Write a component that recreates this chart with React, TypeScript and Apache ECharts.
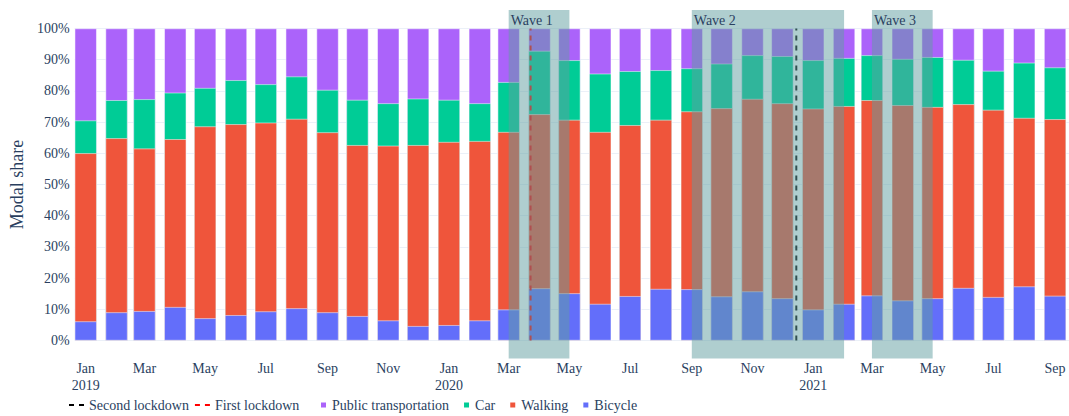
import React, { useEffect, useRef } from "react";
import * as echarts from "echarts";

const months = [
  "2019-01", "2019-02", "2019-03", "2019-04", "2019-05", "2019-06", "2019-07", "2019-08", "2019-09", "2019-10", "2019-11", "2019-12",
  "2020-01", "2020-02", "2020-03", "2020-04", "2020-05", "2020-06", "2020-07", "2020-08", "2020-09", "2020-10", "2020-11", "2020-12",
  "2021-01", "2021-02", "2021-03", "2021-04", "2021-05", "2021-06", "2021-07", "2021-08", "2021-09",
];

const bicycle = [6.1, 9.0, 9.4, 10.7, 7.1, 8.1, 9.3, 10.3, 9.0, 7.8, 6.4, 4.6, 4.9, 6.4, 9.9, 16.7, 15.1, 11.7, 14.2, 16.5, 16.4, 14.1, 15.7, 13.5, 9.9, 11.7, 14.4, 12.8, 13.5, 16.8, 13.9, 17.3, 14.3];
const walking = [53.9, 55.8, 52.1, 53.8, 61.5, 61.2, 60.5, 60.7, 57.7, 54.8, 56.0, 58.0, 58.7, 57.5, 56.9, 55.8, 55.6, 55.1, 54.8, 54.2, 57.0, 60.3, 61.7, 62.5, 64.4, 63.4, 62.6, 62.6, 61.3, 58.9, 60.0, 54.0, 56.6];
const car = [10.5, 12.2, 15.8, 14.9, 12.3, 14.1, 12.3, 13.6, 13.6, 14.5, 13.6, 14.9, 13.5, 12.1, 16.0, 20.3, 19.1, 18.7, 17.3, 15.9, 13.8, 14.3, 14.0, 15.1, 15.5, 15.4, 14.4, 14.8, 16.0, 14.2, 12.5, 17.7, 16.6];
const publicTransport = [29.5, 23.0, 22.7, 20.6, 19.1, 16.6, 17.9, 15.4, 19.7, 22.9, 24.0, 22.5, 22.9, 24.0, 17.2, 7.2, 10.2, 14.5, 13.7, 13.4, 12.8, 11.3, 8.6, 8.9, 10.2, 9.5, 8.6, 9.8, 9.2, 10.1, 13.6, 11.0, 12.5];

const tickMonths = ["2019-01", "2019-03", "2019-05", "2019-07", "2019-09", "2019-11", "2020-01", "2020-03", "2020-05", "2020-07", "2020-09", "2020-11", "2021-01", "2021-03", "2021-05", "2021-07", "2021-09"];
const yTicks = [0, 10, 20, 30, 40, 50, 60, 70, 80, 90, 100];

const waveNames = ["Wave 1", "Wave 2", "Wave 3"];
const waveStarts = ["2020-03-01", "2020-09-01", "2021-03-01"];
const waveEnds = ["2020-05-01", "2021-02-01", "2021-05-01"];
const firstLockdown = "2020-03-23";
const secondLockdown = "2020-12-15";

const monthNames = ["Jan", "Feb", "Mar", "Apr", "May", "Jun", "Jul", "Aug", "Sep", "Oct", "Nov", "Dec"];
const DAY = 86400000;
const toTime = (s: string) => {
  const p = s.split("-").map(Number);
  return Date.UTC(p[0], p[1] - 1, p[2] || 1);
};

const FONT = "Liberation Serif";
const TXT = "#2a3f5f";
const DASH_ICON = "path://M0,0L5,0L5,2L0,2ZM10,0L15,0L15,2L10,2Z";

export default function App() {
  const ref = useRef<HTMLDivElement>(null);
  useEffect(() => {
    document.body.style.margin = "0";
    const chart = echarts.init(ref.current!, undefined, { renderer: "svg" });
    const xs = months.map(toTime);
    // stack order bottom -> top; tops accumulated so every bar spans from 0 to its stacked top
    const layers = [
      { name: "Bicycle", vals: bicycle, color: "#636efa" },
      { name: "Walking", vals: walking, color: "#EF553B" },
      { name: "Car", vals: car, color: "#00cc96" },
      { name: "Public transportation", vals: publicTransport, color: "#ab63fa" },
    ];
    const running = xs.map(() => 0);
    const barSeries = layers.map((l) => {
      const tops = l.vals.map((v, i) => (running[i] += v));
      return {
        name: l.name,
        type: "bar",
        barWidth: 22,
        barGap: "-100%",
        data: xs.map((x, i) => [x, +tops[i].toFixed(2)]),
        itemStyle: { color: l.color, borderColor: "#ffffff", borderWidth: 0.5 },
        emphasis: { disabled: true },
      };
    });
    barSeries.reverse();
    const vline = (name: string, date: string, color: string) => ({
      name,
      type: "line",
      symbol: "none",
      data: [[toTime(date), 0], [toTime(date), 100]],
      lineStyle: { color, width: 2, type: [5, 5] },
      itemStyle: { color },
      z: 5,
    });
    chart.setOption({
      animation: false,
      textStyle: { fontFamily: FONT },
      grid: { left: 71, right: 0, top: 28.5, bottom: 75.5, containLabel: false },
      xAxis: {
        type: "value",
        min: toTime("2019-01-01") - 11.2 * DAY,
        max: toTime("2019-01-01") + 988 * DAY,
        axisLine: { show: false },
        axisTick: { show: false },
        splitLine: { show: false },
        axisLabel: {
          customValues: tickMonths.map(toTime),
          formatter: (v: number) => {
            const d = new Date(v);
            const m = d.getUTCMonth();
            return m === 0 ? monthNames[m] + "\n" + d.getUTCFullYear() : monthNames[m];
          },
          fontFamily: FONT,
          fontSize: 14,
          color: TXT,
          margin: 19,
          lineHeight: 17,
        },
      },
      yAxis: {
        type: "value",
        min: 0,
        max: 100,
        interval: 10,
        name: "Modal share",
        nameLocation: "middle",
        nameGap: 45,
        nameTextStyle: { fontFamily: FONT, fontSize: 18, color: TXT },
        axisLine: { show: false },
        axisTick: { show: false },
        splitLine: { lineStyle: { color: "#EBF0F8", width: 1 } },
        axisLabel: {
          customValues: yTicks,
          formatter: "{value}%",
          fontFamily: FONT,
          fontSize: 14,
          color: TXT,
          margin: 5,
        },
      },
      legend: [
        {
          data: [
            { name: "Second lockdown", icon: DASH_ICON, itemStyle: { color: "#000000", borderWidth: 0 } },
            { name: "First lockdown", icon: DASH_ICON, itemStyle: { color: "#ff0000", borderWidth: 0 } },
          ],
          left: 69,
          top: 398,
          padding: 0,
          itemWidth: 15,
          itemHeight: 2,
          itemGap: 6,
          textStyle: { fontFamily: FONT, fontSize: 14, color: TXT },
          selectedMode: false,
        },
        {
          data: ["Public transportation", "Car", "Walking", "Bicycle"],
          left: 319,
          top: 398,
          padding: 0,
          icon: "rect",
          itemWidth: 7,
          itemHeight: 7,
          itemGap: 13,
          textStyle: { fontFamily: FONT, fontSize: 14, color: TXT },
          selectedMode: false,
        },
      ],
      series: [
        ...barSeries,
        vline("Second lockdown", secondLockdown, "#000000"),
        vline("First lockdown", firstLockdown, "#ff0000"),
      ],
    });
    const graphics: any[] = [];
    waveNames.forEach((name, i) => {
      const p0 = chart.convertToPixel({ xAxisIndex: 0, yAxisIndex: 0 }, [toTime(waveStarts[i]), 105.9]) as number[];
      const p1 = chart.convertToPixel({ xAxisIndex: 0, yAxisIndex: 0 }, [toTime(waveEnds[i]), -5.8]) as number[];
      graphics.push({
        type: "rect",
        z: 100,
        silent: true,
        shape: { x: p0[0], y: p0[1], width: p1[0] - p0[0], height: p1[1] - p0[1] },
        style: { fill: "rgba(95,158,160,0.5)" },
      });
      graphics.push({
        type: "text",
        z: 101,
        silent: true,
        x: p0[0] + 2,
        y: p0[1] + 10,
        style: { text: name, fontFamily: FONT, fontSize: 14, fill: TXT, verticalAlign: "middle", align: "left" },
      });
    });
    chart.setOption({ graphic: graphics });
    return () => chart.dispose();
  }, []);
  return <div ref={ref} style={{ width: 1069, height: 416 }} />;
}
